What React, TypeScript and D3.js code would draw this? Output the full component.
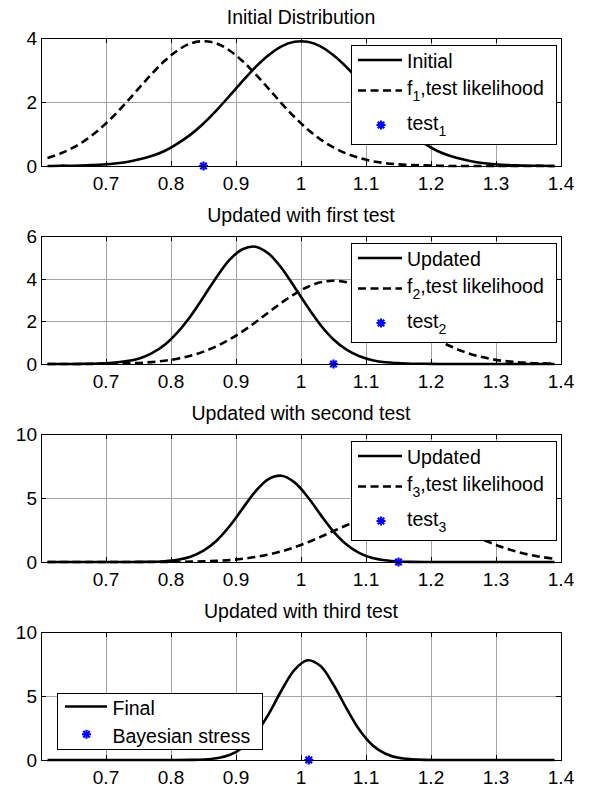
import React, { useEffect, useRef } from 'react';
import * as d3 from 'd3';

// sampled x positions of the curves
const xs = [0.61, 0.63, 0.65, 0.67, 0.69, 0.71, 0.73, 0.75, 0.77, 0.79,
    0.81, 0.83, 0.85, 0.87, 0.89, 0.91, 0.93, 0.95, 0.97, 0.99,
    1.01, 1.03, 1.05, 1.07, 1.09, 1.11, 1.13, 1.15, 1.17, 1.19,
    1.21, 1.23, 1.25, 1.27, 1.29, 1.31, 1.33, 1.35, 1.37, 1.39];

const initial = [0, 0.01, 0.01, 0.02, 0.04, 0.07, 0.12, 0.20, 0.31, 0.47,
    0.70, 0.98, 1.33, 1.74, 2.19, 2.65, 3.09, 3.46, 3.74, 3.88,
    3.88, 3.74, 3.46, 3.09, 2.65, 2.19, 1.74, 1.33, 0.98, 0.70,
    0.47, 0.31, 0.20, 0.12, 0.07, 0.04, 0.02, 0.01, 0.01, 0];
const f1 = [0.25, 0.39, 0.58, 0.83, 1.15, 1.53, 1.96, 2.42, 2.87, 3.28,
    3.61, 3.83, 3.90, 3.83, 3.61, 3.28, 2.87, 2.42, 1.96, 1.53,
    1.15, 0.83, 0.58, 0.39, 0.25, 0.15, 0.09, 0.05, 0.03, 0.02,
    0.01, 0, 0, 0, 0, 0, 0, 0, 0, 0];
const updated1 = [0, 0, 0, 0.01, 0.02, 0.06, 0.13, 0.25, 0.50, 0.89,
    1.48, 2.24, 3.14, 4.07, 4.88, 5.38, 5.50, 5.18, 4.50, 3.61,
    2.68, 1.83, 1.15, 0.67, 0.36, 0.18, 0.08, 0.04, 0.01, 0.01,
    0, 0, 0, 0, 0, 0, 0, 0, 0, 0];
const f2 = [0, 0, 0, 0, 0.01, 0.02, 0.03, 0.05, 0.09, 0.15,
    0.25, 0.39, 0.58, 0.83, 1.15, 1.53, 1.96, 2.42, 2.87, 3.28,
    3.61, 3.83, 3.90, 3.83, 3.61, 3.28, 2.87, 2.42, 1.96, 1.53,
    1.15, 0.83, 0.58, 0.39, 0.25, 0.15, 0.09, 0.05, 0.03, 0.02];
const updated2 = [0, 0, 0, 0, 0, 0, 0, 0.01, 0.02, 0.06,
    0.17, 0.41, 0.88, 1.66, 2.79, 4.17, 5.52, 6.48, 6.74, 6.22,
    5.10, 3.70, 2.38, 1.37, 0.69, 0.31, 0.13, 0.04, 0.01, 0,
    0, 0, 0, 0, 0, 0, 0, 0, 0, 0];
const f3 = [0, 0, 0, 0, 0, 0, 0, 0, 0, 0.01,
    0.02, 0.03, 0.05, 0.09, 0.15, 0.25, 0.39, 0.58, 0.83, 1.15,
    1.53, 1.96, 2.42, 2.87, 3.28, 3.61, 3.83, 3.90, 3.83, 3.61,
    3.28, 2.87, 2.42, 1.96, 1.53, 1.15, 0.83, 0.58, 0.39, 0.25];
const finalDist = [0, 0, 0, 0, 0, 0, 0, 0, 0, 0,
    0, 0.01, 0.04, 0.14, 0.39, 0.96, 2.00, 3.57, 5.43, 7.04,
    7.79, 7.34, 5.88, 4.03, 2.34, 1.16, 0.49, 0.18, 0.06, 0.01,
    0, 0, 0, 0, 0, 0, 0, 0, 0, 0];

// test results and final estimate (marked on the x axis)
const testPoints = [0.85, 1.05, 1.15];
const bayesianStress = 1.012;

const xTicks = [0.7, 0.8, 0.9, 1, 1.1, 1.2, 1.3, 1.4];
const yMax = [4, 6, 10, 10];
const yTicks = [[0, 2, 4], [0, 2, 4, 6], [0, 5, 10], [0, 5, 10]];
const titles = ['Initial Distribution', 'Updated with first test', 'Updated with second test', 'Updated with third test'];
const solidNames = ['Initial', 'Updated', 'Updated', 'Final'];

const FONT = "'Liberation Sans', Arial, Helvetica, sans-serif";

const App = () => {
    const svgRef = useRef(null);

    useEffect(() => {
        const svg = d3.select(svgRef.current);
        svg.selectAll('*').remove();

        const left = 41, right = 561, panelH = 128;
        const tops = [38, 236, 434, 632];
        const x = d3.scaleLinear().domain([0.6, 1.4]).range([left, right]);
        const solids = [initial, updated1, updated2, finalDist];
        const dashed = [f1, f2, f3, null];
        const marks = [...testPoints, bayesianStress];
        const crisp = (v) => Math.round(v) + 0.5;

        // blue '*' marker
        const star = (g, cx, cy) => {
            const r = 4.5, d = r * 0.72;
            const s = g.append('g').attr('stroke', '#0000ff').attr('stroke-width', 2.2);
            [[r, 0], [0, r], [d, d], [d, -d]].forEach(([dx, dy]) => {
                s.append('line')
                    .attr('x1', cx - dx).attr('y1', cy - dy)
                    .attr('x2', cx + dx).attr('y2', cy + dy);
            });
        };

        const subText = (g, tx, ty, main, sub, rest) => {
            const t = g.append('text').attr('x', tx).attr('y', ty)
                .attr('font-size', 19.5).attr('fill', '#000');
            t.append('tspan').text(main);
            if (sub) {
                t.append('tspan').attr('dy', 6).attr('font-size', 14).text(sub);
                t.append('tspan').attr('dy', -6).text(rest);
            }
        };

        tops.forEach((top, k) => {
            const bottom = top + panelH;
            const y = d3.scaleLinear().domain([0, yMax[k]]).range([bottom, top]);
            const g = svg.append('g').attr('font-family', FONT);

            // grid
            g.selectAll('.vg').data(xTicks.filter((t) => t < 1.4)).enter().append('line')
                .attr('x1', (d) => crisp(x(d))).attr('x2', (d) => crisp(x(d)))
                .attr('y1', top).attr('y2', bottom)
                .attr('stroke', '#a3a3a3').attr('stroke-width', 1);
            g.selectAll('.hg').data(yTicks[k].filter((t) => t > 0 && t < yMax[k])).enter().append('line')
                .attr('x1', left).attr('x2', right)
                .attr('y1', (d) => crisp(y(d))).attr('y2', (d) => crisp(y(d)))
                .attr('stroke', '#a3a3a3').attr('stroke-width', 1);

            // inside ticks
            xTicks.forEach((t) => {
                const px = crisp(x(t));
                g.append('line').attr('x1', px).attr('x2', px).attr('y1', top).attr('y2', top + 5).attr('stroke', '#000');
                g.append('line').attr('x1', px).attr('x2', px).attr('y1', bottom).attr('y2', bottom - 5).attr('stroke', '#000');
            });
            yTicks[k].forEach((t) => {
                const py = crisp(y(t));
                g.append('line').attr('x1', left).attr('x2', left + 5).attr('y1', py).attr('y2', py).attr('stroke', '#000');
                g.append('line').attr('x1', right).attr('x2', right - 5).attr('y1', py).attr('y2', py).attr('stroke', '#000');
            });

            const line = d3.line()
                .x((d, i) => x(xs[i]))
                .y((d) => y(d))
                .curve(d3.curveCatmullRom);

            g.append('path').datum(solids[k]).attr('d', line)
                .attr('fill', 'none').attr('stroke', '#000').attr('stroke-width', 2.6);
            if (dashed[k]) {
                g.append('path').datum(dashed[k]).attr('d', line)
                    .attr('fill', 'none').attr('stroke', '#000').attr('stroke-width', 2.6)
                    .attr('stroke-dasharray', '8,4.5');
            }
            star(g, x(marks[k]), y(0));

            // axes box
            g.append('rect').attr('x', left + 0.5).attr('y', top + 0.5)
                .attr('width', right - left).attr('height', panelH)
                .attr('fill', 'none').attr('stroke', '#000').attr('stroke-width', 1);

            // tick labels
            g.selectAll('.xl').data(xTicks).enter().append('text')
                .attr('x', (d) => x(d)).attr('y', bottom + 24)
                .attr('text-anchor', 'middle').attr('font-size', 19)
                .text((d) => d3.format('')(d));
            g.selectAll('.yl').data(yTicks[k]).enter().append('text')
                .attr('x', 37).attr('y', (d) => y(d) + 7)
                .attr('text-anchor', 'end').attr('font-size', 19)
                .text((d) => d);

            // title
            g.append('text').attr('x', (left + right) / 2).attr('y', top - 14.5)
                .attr('text-anchor', 'middle').attr('font-size', 19.5)
                .text(titles[k]);

            // legend
            const lg = g.append('g');
            if (k < 3) {
                const bx = 351, by = top + 7;
                lg.append('rect').attr('x', bx + 0.5).attr('y', by + 0.5).attr('width', 205).attr('height', 99)
                    .attr('fill', '#fff').attr('stroke', '#000').attr('stroke-width', 1);
                lg.append('line').attr('x1', 358).attr('x2', 402).attr('y1', top + 22).attr('y2', top + 22)
                    .attr('stroke', '#000').attr('stroke-width', 2.6);
                subText(lg, 407, top + 30, solidNames[k]);
                lg.append('line').attr('x1', 358).attr('x2', 402).attr('y1', top + 52.5).attr('y2', top + 52.5)
                    .attr('stroke', '#000').attr('stroke-width', 2.6).attr('stroke-dasharray', '8,4.5');
                subText(lg, 407, top + 57, 'f', String(k + 1), ',test likelihood');
                star(lg, 381, top + 87);
                subText(lg, 407, top + 91.5, 'test', String(k + 1), '');
            } else {
                const bx = 57, by = top + 61;
                lg.append('rect').attr('x', bx + 0.5).attr('y', by + 0.5).attr('width', 205).attr('height', 56)
                    .attr('fill', '#fff').attr('stroke', '#000').attr('stroke-width', 1);
                lg.append('line').attr('x1', 65).attr('x2', 107).attr('y1', top + 74.5).attr('y2', top + 74.5)
                    .attr('stroke', '#000').attr('stroke-width', 2.6);
                subText(lg, 112.5, top + 82.5, solidNames[k]);
                star(lg, 86.5, top + 102.3);
                subText(lg, 112.5, top + 110.5, 'Bayesian stress');
            }
        });
    }, []);

    return <svg ref={svgRef} width={590} height={789} style={{ display: 'block', position: 'absolute', left: 0, top: 0, background: '#fff' }}></svg>;
};

export default App;
